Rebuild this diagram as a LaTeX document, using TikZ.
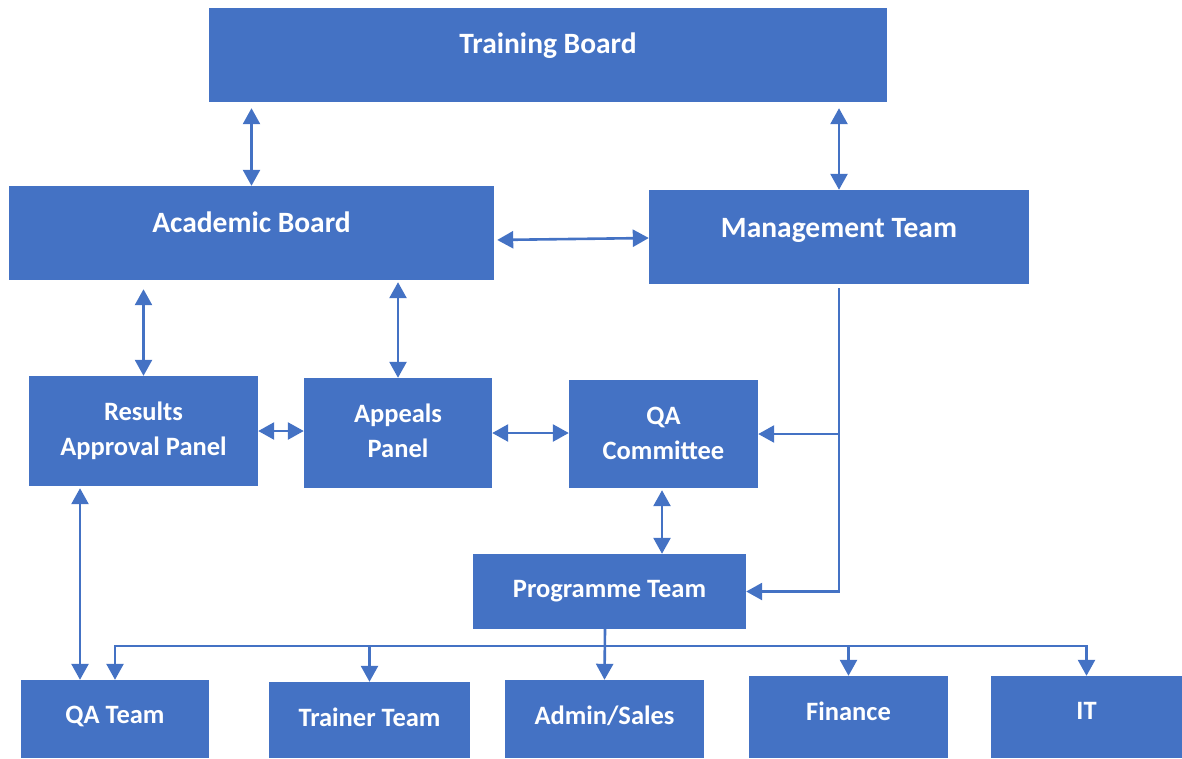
\documentclass[tikz,border=0pt]{standalone}
\usepackage{fontspec}
\setmainfont{Carlito}
\usetikzlibrary{arrows.meta}

\definecolor{boxblue}{HTML}{4472C4}

\begin{document}
\begin{tikzpicture}[x=1pt,y=-1pt,
  box/.style={fill=boxblue, draw=none, inner sep=0pt},
  big/.style={text=white, font=\bfseries\fontsize{29.5}{35}\selectfont, align=center},
  txt/.style={text=white, font=\bfseries\fontsize{26.5}{35}\selectfont, align=center},
  link/.style={draw=boxblue, line width=2.6pt, -{Triangle[width=17pt,length=16pt]}},
  twoway/.style={draw=boxblue, line width=2.6pt, {Triangle[width=17pt,length=16pt]}-{Triangle[width=17pt,length=16pt]}}]
\useasboundingbox (0,0) rectangle (1182,758);
% boards
\node[box, minimum width=678pt, minimum height=94pt, label={[big,yshift=9pt]center:Training Board}] (tb) at (548,55) {};
\node[box, minimum width=485pt, minimum height=94pt, label={[big,yshift=11pt]center:Academic Board}] (ab) at (251.5,233) {};
\node[box, minimum width=380pt, minimum height=94pt, label={[big,yshift=7pt]center:Management Team}] (mt) at (839,237) {};
% panels
\node[box, minimum width=229pt, minimum height=110pt, label={[txt,yshift=0.5pt]center:Results\\Approval Panel}] (rap) at (143.5,431) {};
\node[box, minimum width=188pt, minimum height=110pt, label={[txt,yshift=2.5pt]center:Appeals\\Panel}] (ap) at (398,433) {};
\node[box, minimum width=189pt, minimum height=108pt, label={[txt,yshift=0.5pt]center:QA\\Committee}] (qac) at (663.5,434) {};
\node[box, minimum width=273pt, minimum height=75pt, label={[txt,yshift=0.5pt]center:Programme Team}] (pt) at (609.5,591.5) {};
% teams
\node[box, minimum width=188pt, minimum height=78pt, label={[txt,yshift=3pt]center:QA Team}] (qat) at (115,719) {};
\node[box, minimum width=201pt, minimum height=76pt, label={[txt,yshift=3pt]center:Trainer Team}] (tt) at (369.5,720) {};
\node[box, minimum width=199pt, minimum height=78pt, label={[txt,yshift=3pt]center:Admin/Sales}] (ad) at (604.5,719) {};
\node[box, minimum width=199pt, minimum height=82pt, label={[txt,yshift=6pt]center:Finance}] (fin) at (848.5,717) {};
\node[box, minimum width=191pt, minimum height=82pt, label={[txt,yshift=6pt]center:IT}] (it) at (1086.5,717) {};

\draw[twoway, shorten >=6pt] (ab.north) -- (ab.north |- tb.south);
\draw[twoway, shorten >=6pt] (mt.north) -- (mt.north |- tb.south);
\draw[twoway, shorten <=3pt] ([yshift=-7pt]ab.east) -- ([yshift=-1pt]mt.west);
\draw[twoway, shorten >=9pt] (rap.north) -- (rap.north |- ab.south);
\draw[twoway, shorten >=2pt] (ap.north) -- (ap.north |- ab.south);
\draw[twoway] (rap.east) -- (rap.east -| ap.west);
\draw[twoway] (ap.east) -- (ap.east -| qac.west);
\draw[twoway, shorten <=2pt] ([xshift=-1.5pt]qac.south) -- ([xshift=-1.5pt]qac.south |- pt.north);
\draw[twoway, shorten <=2pt] ([xshift=-63.5pt]rap.south) -- ([xshift=-35pt]qat.north);

\coordinate (split) at (mt.south |- qac.east);
\draw[link, shorten <=4pt] (mt.south) -- (split) -- (qac.east);
\draw[link] (split) -- (split |- pt.east) -- (pt.east);

\coordinate (bus) at ([xshift=-4.5pt]pt.south |- 0,646);
\draw[link] ([xshift=-4.5pt]pt.south) -- (ad.north);
\draw[link] (bus) -| (qat.north);
\draw[link] (bus) -| (tt.north);
\draw[link] (bus) -| (fin.north);
\draw[link] (bus) -| (it.north);
\end{tikzpicture}
\end{document}
